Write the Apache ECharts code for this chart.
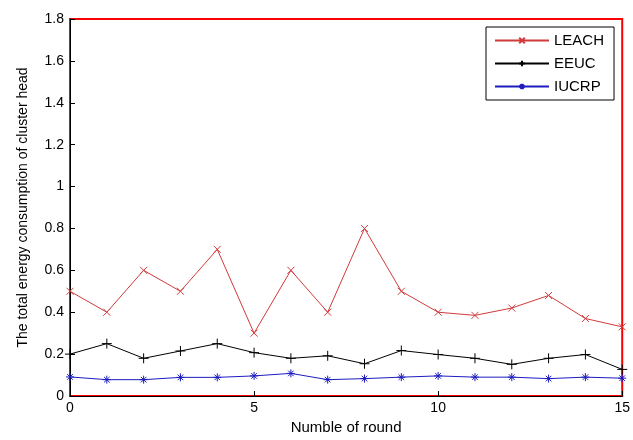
<!DOCTYPE html>
<html>
<head>
<meta charset="utf-8">
<script src="https://cdn.jsdelivr.net/npm/echarts@6/dist/echarts.min.js"></script>
<style>
  html, body { margin: 0; padding: 0; background: #fff; }
  #chart { width: 633px; height: 440px; }
</style>
</head>
<body>
<div id="chart"></div>
<script>
const rounds = [0, 1, 2, 3, 4, 5, 6, 7, 8, 9, 10, 11, 12, 13, 14, 15];
const leach = [0.5, 0.4, 0.6, 0.5, 0.7, 0.3, 0.6, 0.4, 0.8, 0.5, 0.4, 0.385, 0.42, 0.48, 0.37, 0.33];
const eeuc = [0.2, 0.25, 0.18, 0.215, 0.25, 0.207, 0.18, 0.192, 0.154, 0.217, 0.198, 0.18, 0.151, 0.18, 0.198, 0.127];
const iucrp = [0.091, 0.078, 0.078, 0.089, 0.089, 0.096, 0.108, 0.078, 0.083, 0.09, 0.096, 0.09, 0.09, 0.083, 0.09, 0.085];

const font = 'Liberation Sans, Arial, sans-serif';

// marker shapes (stroked only)
const crossX = 'path://M0,0L10,10M10,0L0,10';
const plus = 'path://M5,0L5,10M0,5L10,5';
const star = 'path://M5,0L5,10M0,5L10,5M1.5,1.5L8.5,8.5M8.5,1.5L1.5,8.5';

function pairs(ys) {
  return rounds.map((x, i) => [x, ys[i]]);
}

function makeSeries(name, ys, color, symbol, size) {
  return {
    name: name,
    type: 'line',
    data: pairs(ys),
    symbol: symbol,
    symbolSize: size,
    showAllSymbol: true,
    lineStyle: { color: color, width: 1 },
    itemStyle: { color: 'transparent', borderColor: color, borderWidth: 1 },
    emphasis: { disabled: true },
    animation: false
  };
}

function tick() {
  return { show: true, inside: true, length: 5, lineStyle: { color: '#000', width: 1 } };
}

const myChart = echarts.init(document.getElementById('chart'));

const option = {
  animation: false,
  grid: {
    left: 70, right: 6, top: 19, bottom: 39,
    show: true, borderColor: '#ff0000', borderWidth: 2
  },
  legend: {
    orient: 'vertical',
    left: 486,
    top: 27,
    padding: [6, 10, 6, 8],
    itemWidth: 54,
    itemHeight: 7,
    itemGap: 8,
    backgroundColor: '#fff',
    borderColor: '#000',
    borderWidth: 1,
    borderRadius: 0,
    textStyle: { fontFamily: font, fontSize: 15, color: '#000' },
    data: ['LEACH', 'EEUC', 'IUCRP']
  },
  xAxis: {
    type: 'value', min: 0, max: 15, interval: 5,
    name: 'Numble of round', nameLocation: 'middle', nameGap: 24,
    nameTextStyle: { fontFamily: font, fontSize: 15, color: '#000' },
    axisLine: { show: true, onZero: false, lineStyle: { color: '#000' } },
    axisTick: tick(), splitLine: { show: false },
    axisLabel: { fontFamily: font, fontSize: 14, color: '#000', margin: 5 }
  },
  yAxis: {
    type: 'value', min: 0, max: 1.8, interval: 0.2,
    name: 'The total energy consumption of cluster head', nameLocation: 'middle', nameGap: 40,
    nameTextStyle: { fontFamily: font, fontSize: 14, color: '#000' },
    axisLine: { show: true, onZero: false, lineStyle: { color: '#000' } },
    axisTick: tick(), splitLine: { show: false },
    axisLabel: { fontFamily: font, fontSize: 14, color: '#000', margin: 6 }
  },
  series: [
    makeSeries('LEACH', leach, '#d03a3a', crossX, 7),
    makeSeries('EEUC', eeuc, '#000000', plus, 10),
    makeSeries('IUCRP', iucrp, '#1c1cc0', star, 8)
  ]
};
myChart.setOption(option);
</script>
</body>
</html>
